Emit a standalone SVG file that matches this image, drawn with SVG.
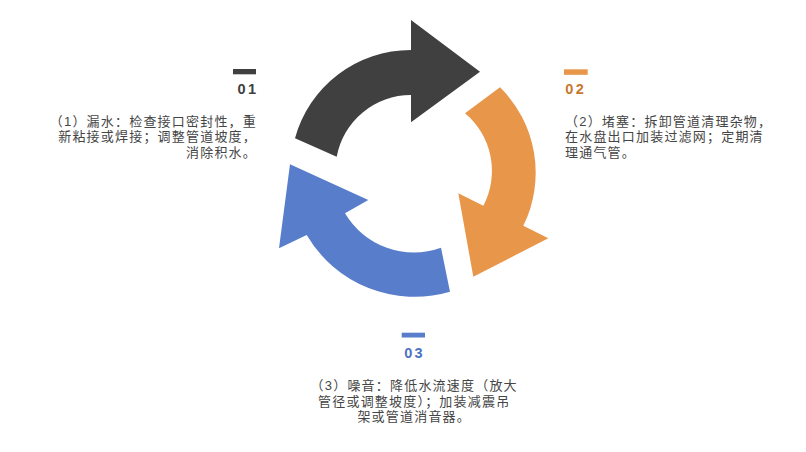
<svg xmlns="http://www.w3.org/2000/svg" width="806" height="452" viewBox="0 0 806 452">
<style>
.body{font-family:"Liberation Sans","Noto Sans CJK SC",sans-serif;font-size:13px;letter-spacing:1.2px;fill:#454545}
.num{font-family:"Liberation Sans","Noto Sans CJK SC",sans-serif;font-size:14.5px;font-weight:bold;letter-spacing:2.3px}
</style>
<rect width="806" height="452" fill="#ffffff"/>
<g id="cycle-arrows">
<path id="arrow-dark" fill="#404040" d="M295,138.3 A120,120 0 0 1 411,50 L411,20 L480,71.7 L411,122.3 L411,95 A75.5,75.5 0 0 0 336.7,156.7 Z"/>
<path id="arrow-orange" fill="#E8974A" d="M500,87.3 A120,120 0 0 1 523.3,225.8 L548.3,238.3 L473.3,276.7 L458.3,193.3 L483.3,205.8 A75,75 0 0 0 465,113.3 Z"/>
<path id="arrow-blue" fill="#587DCB" d="M450,291.7 A125,125 0 0 1 306.7,235 L279,248.3 L290,164.3 L368.3,200 L345,213.3 A80,80 0 0 0 441,247.7 Z"/>
</g>
<g id="step-1">
<rect x="233" y="69" width="23" height="5.3" fill="#404040"/>
<text class="num" x="258.3" y="93.5" text-anchor="end" fill="#404040">01</text>
<text class="body" text-anchor="end"><tspan x="257" y="125.8">（1）漏水：检查接口密封性，重</tspan><tspan x="257" y="141.3">新粘接或焊接；调整管道坡度，</tspan><tspan x="257" y="156.8">消除积水。</tspan></text>
</g>
<g id="step-2">
<rect x="564" y="69.3" width="23.7" height="5.5" fill="#E8974A"/>
<text class="num" x="565.3" y="94" fill="#C8772F">02</text>
<text class="body"><tspan x="565" y="125.8">（2）堵塞：拆卸管道清理杂物，</tspan><tspan x="565" y="141.3">在水盘出口加装过滤网；定期清</tspan><tspan x="565" y="156.8">理通气管。</tspan></text>
</g>
<g id="step-3">
<rect x="401.7" y="332.7" width="23.3" height="4.8" fill="#587DCB"/>
<text class="num" x="414.6" y="357.5" text-anchor="middle" fill="#4E72C2">03</text>
<text class="body" text-anchor="middle"><tspan x="414.2" y="390.3">（3）噪音：降低水流速度（放大</tspan><tspan x="414.2" y="405.6">管径或调整坡度）；加装减震吊</tspan><tspan x="414.2" y="420.9">架或管道消音器。</tspan></text>
</g>
</svg>
